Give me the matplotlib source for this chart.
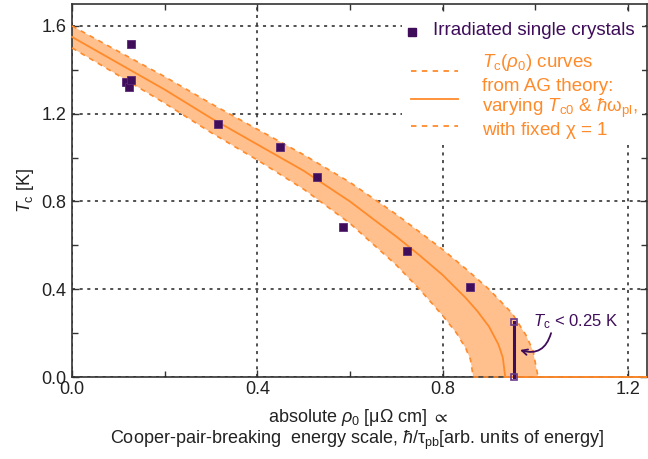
import numpy as np
import matplotlib
matplotlib.use("Agg")
import matplotlib.pyplot as plt
from matplotlib.patches import Rectangle
from matplotlib.lines import Line2D

plt.rcParams['font.family'] = ['Liberation Sans', 'DejaVu Sans']
plt.rcParams['mathtext.fontset'] = 'custom'
plt.rcParams['mathtext.rm'] = 'Liberation Sans'
plt.rcParams['mathtext.it'] = 'Liberation Sans:italic'
plt.rcParams['mathtext.bf'] = 'Liberation Sans:bold'
plt.rcParams['mathtext.fallback'] = 'stixsans'

# irradiated single crystals
rho_data = [0.127, 0.117, 0.123, 0.127, 0.315, 0.449, 0.529, 0.586, 0.724, 0.860]
tc_data = [1.518, 1.343, 1.320, 1.352, 1.155, 1.050, 0.913, 0.684, 0.574, 0.410]

# sample with Tc below 0.25 K
rho_low = [0.955, 0.955]
tc_low = [0.25, 0.0]

# AG curves (central, upper and lower)
rho_mid = [0, 0.1, 0.2, 0.3, 0.4, 0.5, 0.6, 0.7, 0.75, 0.8, 0.85, 0.875, 0.9, 0.91, 0.92, 0.925, 0.93, 0.935]
tc_mid = [1.55, 1.43, 1.31, 1.18, 1.06, 0.94, 0.80, 0.64, 0.555, 0.465, 0.36, 0.30, 0.23, 0.19, 0.15, 0.12, 0.087, 0.0]
rho_up = [0, 0.1, 0.2, 0.3, 0.4, 0.5, 0.6, 0.7, 0.8, 0.85, 0.9, 0.95, 0.98, 0.995, 1.006]
tc_up = [1.60, 1.484, 1.369, 1.246, 1.129, 1.013, 0.887, 0.741, 0.581, 0.493, 0.40, 0.29, 0.19, 0.12, 0.0]
rho_lo = [0, 0.1, 0.2, 0.3, 0.4, 0.5, 0.6, 0.7, 0.75, 0.8, 0.83, 0.85, 0.86, 0.866]
tc_lo = [1.50, 1.375, 1.248, 1.114, 0.989, 0.856, 0.70, 0.51, 0.40, 0.28, 0.20, 0.13, 0.08, 0.0]

xmax = 1.24
orange = '#ff8a2a'
band = '#ffc08e'
purple = '#3f0d5a'

fig = plt.figure(figsize=(6.48, 4.59), dpi=100)
ax = fig.add_axes([72/648, 82/459, 574.5/648, 373/459])

ax.set_xlim(0, xmax)
ax.set_ylim(0, 1.70)
ax.set_axisbelow(True)
ax.grid(True, which='major', color='#222222', linestyle=(0, (2, 3)), linewidth=1.1)

ax.fill(rho_up + rho_lo[::-1], tc_up + tc_lo[::-1], color=band, lw=0, zorder=1)
ax.plot(rho_mid + [xmax], tc_mid + [0], color=orange, lw=1.3, zorder=3, clip_on=False)
ax.plot(rho_up, tc_up, color=orange, lw=1.2, ls=(0, (3, 3)), zorder=3, clip_on=False)
ax.plot(rho_lo + [xmax], tc_lo + [0], color=orange, lw=1.2, ls=(0, (3, 3)), zorder=3, clip_on=False)

ax.plot(rho_data, tc_data, 's', color=purple, ms=5.5, mec='#5a2a78', mew=0.6, zorder=5)
ax.plot(rho_low, tc_low, '-', color=purple, lw=2.2, zorder=5, clip_on=False)
ax.plot(rho_low, tc_low, 's', mfc='none', mec='#6a3a8a', ms=5, mew=1.2, zorder=6, clip_on=False)

ax.text(0.995, 0.25, r'$T_\mathrm{c}$ < 0.25 K', fontsize=12, color=purple,
        va='center', ha='left', zorder=6)
ax.annotate('', xy=(0.967, 0.123), xytext=(1.034, 0.20),
            arrowprops=dict(arrowstyle='->', color=purple, lw=1.3,
                            connectionstyle='arc3,rad=-0.5',
                            shrinkA=0, shrinkB=0), zorder=6)

ax.set_xticks([0.0, 0.4, 0.8, 1.2])
ax.set_yticks([0.0, 0.4, 0.8, 1.2, 1.6])
ax.set_xticks(np.arange(0, 1.21, 0.2), minor=True)
ax.set_yticks(np.arange(0, 1.61, 0.2), minor=True)
ax.tick_params(which='both', direction='in', top=True, right=True, labelsize=13,
               color='#333333', labelcolor='#222222')
ax.tick_params(which='major', length=5, width=1)
ax.tick_params(which='minor', length=4, width=1)
ax.tick_params(axis='x', pad=3)
ax.tick_params(axis='y', pad=4)
for s in ax.spines.values():
    s.set_color('#333333')
    s.set_linewidth(1.2)

ax.set_ylabel(r'$T_\mathrm{c}$ [K]', fontsize=13, color='#222222', labelpad=4)
fig.text(358/648, 1 - 417/459, r'absolute $\rho_0$ [$\mathrm{\mu\Omega}$ cm] $\propto$',
         fontsize=13, ha='center', va='center', color='#222222')
fig.text(357/648, 1 - 440/459,
         r'Cooper-pair-breaking  energy scale, $ħ/\mathrm{\tau}_\mathrm{pb}$[arb. units of energy]',
         fontsize=13, ha='center', va='center', color='#222222')

# legend, drawn by hand
ax.add_patch(Rectangle((0.574, 0.622), 0.418, 0.357, transform=ax.transAxes,
                       facecolor='white', edgecolor='none', zorder=0.8))
ax.add_line(Line2D([0.592], [0.925], marker='s', ms=6, color=purple,
                   transform=ax.transAxes, zorder=7))
ax.text(0.628, 0.928, 'Irradiated single crystals', transform=ax.transAxes,
        fontsize=13.5, color=purple, va='center', ha='left', zorder=7)
for fy, style in [(0.820, (0, (3, 3))), (0.745, '-'), (0.673, (0, (3, 3)))]:
    ax.add_line(Line2D([0.590, 0.672], [fy, fy], color=orange, lw=1.3, ls=style,
                       transform=ax.transAxes, zorder=7))
leg_lines = [r'$T_\mathrm{c}(\rho_0)$ curves', 'from AG theory:',
             r'varying $T_\mathrm{c0}$ & $ħ\mathrm{\omega}_\mathrm{pl}$,',
             r'with fixed $\mathrm{\chi}$ = 1']
for fy, s in zip([0.842, 0.780, 0.721, 0.660], leg_lines):
    ax.text(0.714, fy, s, transform=ax.transAxes, fontsize=13.5, color=orange,
            va='center', ha='left', zorder=7)

fig.savefig('out.png', dpi=100)
